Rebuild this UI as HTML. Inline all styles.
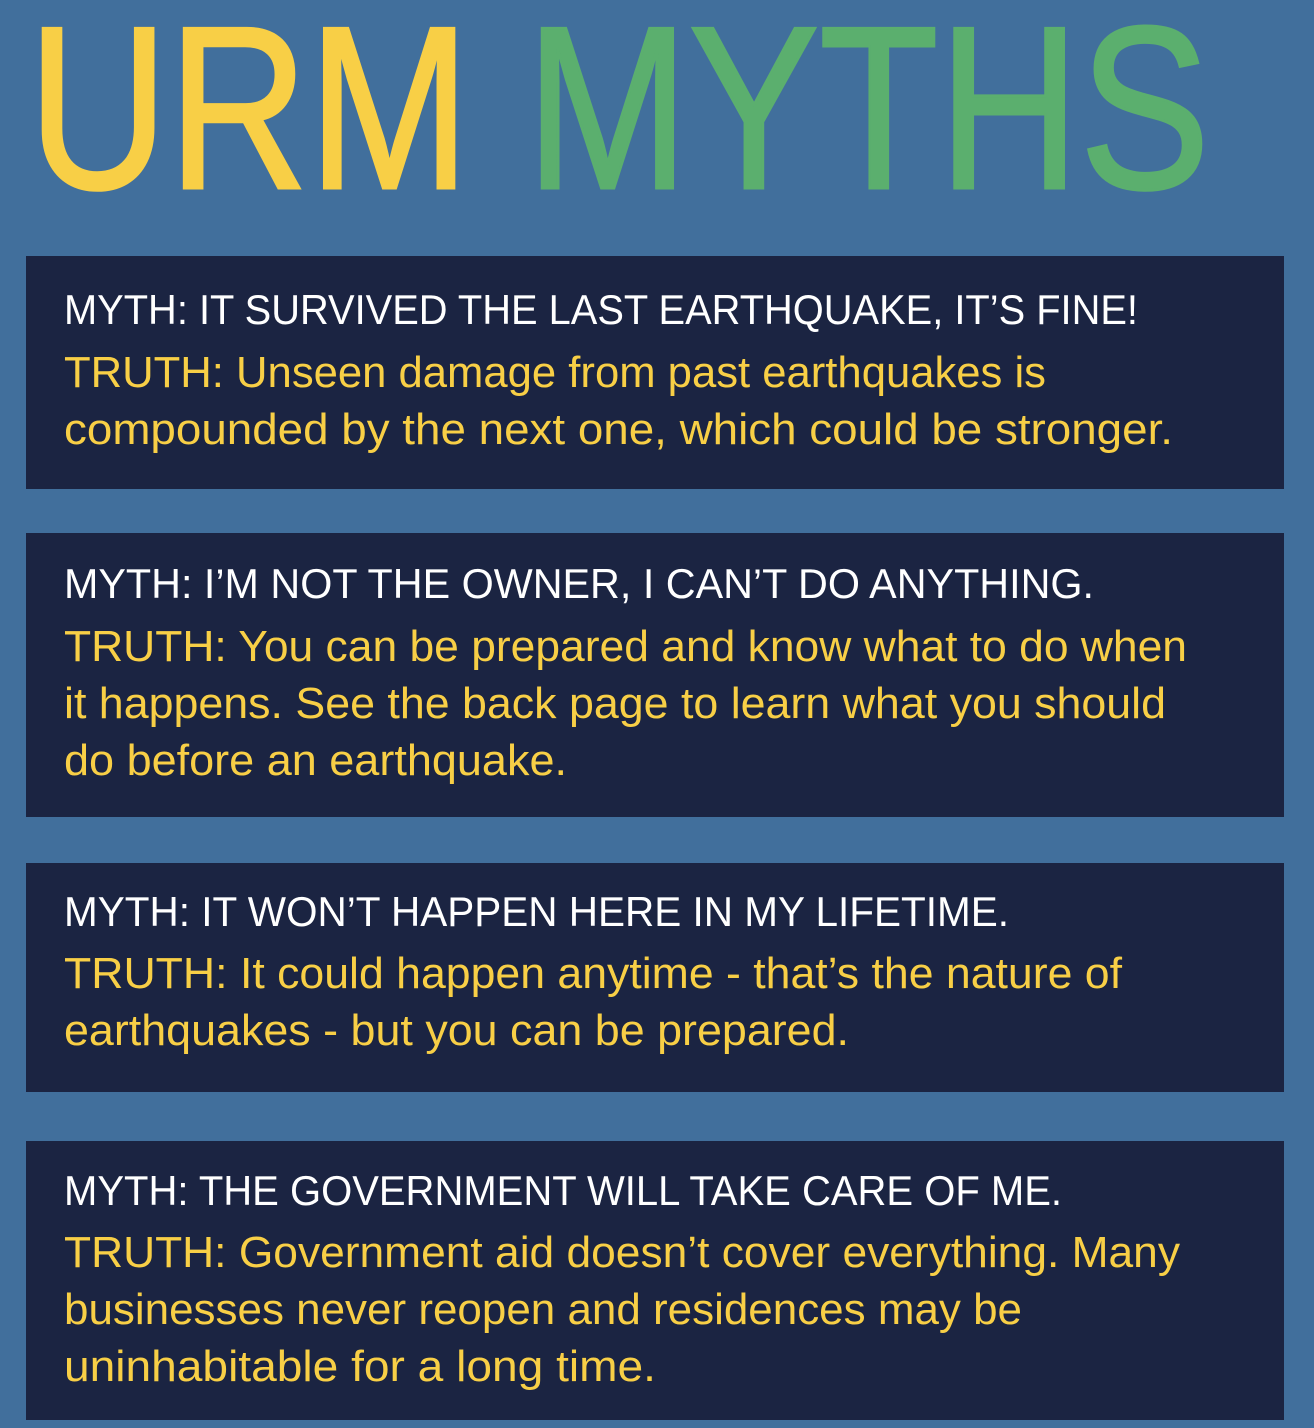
<!DOCTYPE html>
<html><head><meta charset="utf-8"><style>
html,body{margin:0;padding:0;background:#416f9c;}
svg{display:block;}
text{font-family:"Liberation Sans",sans-serif;}
.m{fill:#ffffff;font-size:42px;}
.t{fill:#f8cf46;font-size:44px;}
</style></head><body>
<svg width="1314" height="1428" viewBox="0 0 1314 1428">
<rect x="0" y="0" width="1314" height="1428" fill="#416f9c"/>
<g>
<text x="28" y="188" font-size="232" fill="#f8cf46" stroke="#f8cf46" stroke-width="3" textLength="442" lengthAdjust="spacingAndGlyphs">URM</text>
<text x="526" y="188" font-size="232" fill="#5baf6e" stroke="#5baf6e" stroke-width="3" textLength="684" lengthAdjust="spacingAndGlyphs">MYTHS</text>
</g>
<g>
<rect x="26" y="256" width="1258" height="233" fill="#1b2442"/>
<text class="m" x="64" y="324" textLength="1074" lengthAdjust="spacingAndGlyphs">MYTH: IT SURVIVED THE LAST EARTHQUAKE, IT’S FINE!</text>
<text class="t" x="64" y="387" textLength="982" lengthAdjust="spacingAndGlyphs">TRUTH: Unseen damage from past earthquakes is</text>
<text class="t" x="64" y="444" textLength="1109" lengthAdjust="spacingAndGlyphs">compounded by the next one, which could be stronger.</text>
</g>
<g>
<rect x="26" y="533" width="1258" height="284" fill="#1b2442"/>
<text class="m" x="64" y="598" textLength="1030" lengthAdjust="spacingAndGlyphs">MYTH: I’M NOT THE OWNER, I CAN’T DO ANYTHING.</text>
<text class="t" x="64" y="661" textLength="1123" lengthAdjust="spacingAndGlyphs">TRUTH: You can be prepared and know what to do when</text>
<text class="t" x="64" y="718" textLength="1102" lengthAdjust="spacingAndGlyphs">it happens. See the back page to learn what you should</text>
<text class="t" x="64" y="775" textLength="503" lengthAdjust="spacingAndGlyphs">do before an earthquake.</text>
</g>
<g>
<rect x="26" y="863" width="1258" height="229" fill="#1b2442"/>
<text class="m" x="64" y="926" textLength="945" lengthAdjust="spacingAndGlyphs">MYTH: IT WON’T HAPPEN HERE IN MY LIFETIME.</text>
<text class="t" x="64" y="988" textLength="1058" lengthAdjust="spacingAndGlyphs">TRUTH: It could happen anytime - that’s the nature of</text>
<text class="t" x="64" y="1045" textLength="785" lengthAdjust="spacingAndGlyphs">earthquakes - but you can be prepared.</text>
</g>
<g>
<rect x="26" y="1141" width="1258" height="279" fill="#1b2442"/>
<text class="m" x="64" y="1205" textLength="998" lengthAdjust="spacingAndGlyphs">MYTH: THE GOVERNMENT WILL TAKE CARE OF ME.</text>
<text class="t" x="64" y="1267" textLength="1116" lengthAdjust="spacingAndGlyphs">TRUTH: Government aid doesn’t cover everything. Many</text>
<text class="t" x="64" y="1324" textLength="958" lengthAdjust="spacingAndGlyphs">businesses never reopen and residences may be</text>
<text class="t" x="64" y="1381" textLength="592" lengthAdjust="spacingAndGlyphs">uninhabitable for a long time.</text>
</g>
</svg>
</body></html>
